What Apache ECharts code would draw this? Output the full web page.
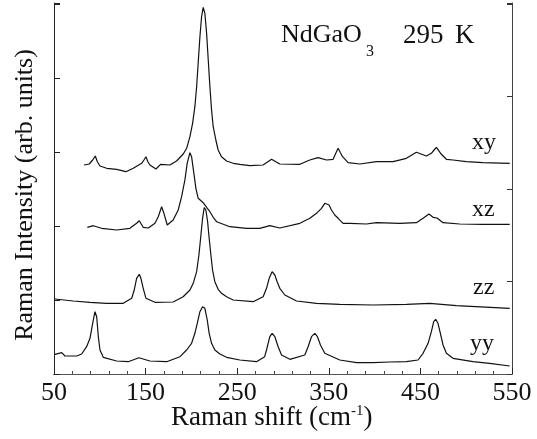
<!DOCTYPE html>
<html>
<head>
<meta charset="utf-8">
<script src="https://cdn.jsdelivr.net/npm/echarts@6/dist/echarts.min.js"></script>
<style>html,body{margin:0;padding:0;background:#fff}#c{width:537px;height:439px}</style>
</head>
<body>
<div id="c"></div>
<script>
// Raman shift (cm^-1) and intensity (arb. units, curves offset vertically)
var xyShift = [82.7, 88.5, 92.2, 95.1, 97.3, 100.2, 107.5, 118.4, 128.5, 136.5, 145.7, 148.2, 150.4, 152.5, 154.7, 161.3, 166.4, 176.5, 183.8, 191.1, 194.8, 198.4, 201.3, 203.8, 205.7, 207.4, 209.3, 211.1, 212.9, 214.7, 216.6, 218.4, 220.2, 222, 223.8, 226.7, 229.2, 232.9, 238.4, 245.6, 252.9, 263.8, 278.3, 287.5, 296.5, 318.4, 329.3, 338.3, 347.5, 354.7, 357.6, 360.2, 362.7, 365, 371.1, 383.8, 402, 420.2, 434.7, 445.6, 456.5, 462, 464.9, 467.5, 470, 472.9, 478.4, 485.6, 500.2, 518.3, 547.5];
var xyInt   = [209, 210, 214, 218, 212.3, 208, 205.7, 204.7, 202.3, 205.7, 210.7, 214, 217.3, 212.3, 209, 205, 209.7, 209, 213, 220, 225.7, 237.3, 250.7, 267.3, 287.3, 310.7, 337.3, 357.3, 366.7, 360.7, 340.7, 314, 287.3, 264, 247.3, 234, 224, 217.3, 213, 210.7, 209.7, 208.3, 209, 214.7, 210, 209.7, 214, 216.3, 214, 214.7, 220.7, 225.7, 221.3, 217.3, 211.3, 210, 212.3, 212.3, 215.7, 221.7, 218, 220.7, 224, 226.7, 223.3, 219.7, 214.7, 214, 212.3, 211.3, 210.7];

var xzShift = [86.4, 92.9, 102, 118.4, 132.9, 140.2, 143.1, 147.4, 153, 160.2, 163.8, 167.5, 170, 173.6, 180.1, 185.6, 189.3, 192.9, 195.4, 198.4, 200.2, 202.7, 204.9, 207.4, 212.9, 216.6, 220.2, 223.8, 227.5, 242, 260.2, 274.7, 285.6, 296.5, 318.4, 329.3, 336.6, 342, 345.6, 347.5, 350.3, 352.9, 356.5, 360.2, 365.6, 372.9, 391.1, 402, 427.4, 445.6, 452.9, 459.4, 463.8, 468.1, 474.7, 492.9, 518.3, 547.5];
var xzInt   = [146.7, 148.3, 145.7, 144, 145.7, 150.7, 153.3, 146.7, 146, 150.7, 157.3, 167.3, 160.7, 149, 154, 164, 177.3, 194, 210.7, 221.3, 217.3, 200.7, 185.7, 175.7, 171.3, 166.7, 162.3, 156.7, 152.3, 147.3, 145.7, 145.7, 148.3, 146, 150.7, 155.7, 160.7, 165.7, 170.7, 171.3, 169, 164, 159, 155.7, 150.7, 150.7, 150, 151.3, 150.7, 151.3, 155.7, 160, 156.7, 156, 151.3, 150, 149.7, 149.7];

var zzShift = [51, 71, 89.3, 107.5, 125.6, 134.8, 137.6, 140.2, 143.1, 144.9, 147.4, 150.4, 160.2, 180.1, 191, 198.4, 202, 205.7, 208.2, 210.4, 212.2, 214, 215.8, 217.7, 219.4, 221.3, 223.1, 225.6, 229.2, 232.9, 238.4, 245.6, 267.4, 278.3, 282, 284.9, 288.1, 291.1, 293.6, 296.5, 302, 314.8, 336.6, 362, 398.3, 434.8, 460.2, 489.3, 547.5];
var zzInt   = [75, 73, 71.7, 70.7, 70.7, 75.7, 84, 95.7, 99.7, 95.7, 85.7, 75.7, 71.7, 72, 77.3, 84, 90.7, 102.3, 119, 139, 155.7, 166.3, 164, 152.3, 135.7, 119, 104, 92.3, 84.7, 80.7, 77.3, 74, 72.3, 77.3, 85.7, 95.7, 102.3, 99, 92.3, 85.7, 79, 73, 70.7, 69.7, 69, 69.7, 70.7, 68.3, 65.7];

var yyShift = [51, 58.4, 62, 74.8, 80.2, 85.6, 89.3, 92.2, 94.7, 96.6, 98.4, 100.2, 103.8, 118.4, 131, 142.7, 154.7, 173, 187.5, 194.8, 200.2, 203.8, 206.4, 209.3, 212.2, 214.7, 217.3, 219.4, 222, 225.6, 231.1, 238.4, 252.9, 271, 280, 282, 285.6, 288.1, 291.1, 294.7, 298.4, 307.5, 323.8, 327.4, 331.1, 334.7, 337.6, 340.9, 345.6, 362, 380.2, 398.3, 416.5, 434.7, 447.4, 452.9, 458.4, 462, 464.5, 466.7, 469.2, 471.8, 474.7, 478.4, 485.6, 507.4, 525.6, 547.5];
var yyInt   = [19.7, 21.3, 18, 18, 20, 27.3, 35.7, 50.7, 62.3, 57.3, 37.3, 24, 16.7, 13, 12.3, 16.3, 13, 12.3, 17.3, 24, 30.7, 40.7, 50.7, 62.3, 67.3, 65.7, 54, 40.7, 30.7, 24, 20, 16.7, 14, 12.3, 17.3, 24, 37.3, 40.7, 37.3, 27.3, 19, 14.7, 19, 27.3, 37.3, 40.7, 37.3, 29, 20.7, 14, 11.3, 11.3, 12, 12.3, 14, 20.7, 30.7, 42.3, 52.3, 54.7, 50.7, 40.7, 29, 20.7, 15.7, 12.3, 10.7, 8];

var seriesNames = ['xy', 'xz', 'zz', 'yy'];
var xTickLabels = [50, 150, 250, 350, 450, 550];

var FONT = "'Liberation Serif', 'Times New Roman', serif";
function zip(a, b) { return a.map(function (v, i) { return [v, b[i]]; }); }
function line(name, xs, ys) {
  return { name: name, type: 'line', data: zip(xs, ys), showSymbol: false, symbol: 'none',
    lineStyle: { color: '#111', width: 1.2 }, animation: false, silent: true };
}

var chart = echarts.init(document.getElementById('c'), null, { renderer: 'canvas' });
chart.setOption({
  backgroundColor: '#fff',
  animation: false,
  grid: { left: 54, right: 25, top: 3, bottom: 65, containLabel: false, outerBoundsMode: 'none' },
  xAxis: [{
    type: 'value', min: xTickLabels[0], max: xTickLabels[xTickLabels.length - 1], interval: 100,
    position: 'bottom',
    axisLine: { show: true, lineStyle: { color: '#222', width: 1 } },
    axisTick: { show: true, inside: true, length: 6, lineStyle: { color: '#222' } },
    minorTick: { show: true, splitNumber: 5, length: 3, lineStyle: { color: '#444' } },
    axisLabel: { fontFamily: FONT, fontSize: 26, color: '#111', margin: 6 },
    splitLine: { show: false }
  }, {
    type: 'value', min: 50, max: 550, position: 'top',
    axisLine: { show: true, lineStyle: { color: '#555', width: 1 } },
    axisTick: { show: false }, axisLabel: { show: false }, splitLine: { show: false }
  }],
  yAxis: [{
    type: 'value', min: 0, max: 371, interval: 74, position: 'left',
    axisLine: { show: true, lineStyle: { color: '#222', width: 1 } },
    axisTick: { show: true, inside: true, length: 6, lineStyle: { color: '#222' } },
    axisLabel: { show: false }, splitLine: { show: false }
  }, {
    type: 'value', min: 0, max: 371, interval: 92.5, position: 'right',
    axisLine: { show: true, lineStyle: { color: '#444', width: 1 } },
    axisTick: { show: true, inside: true, length: 5, lineStyle: { color: '#333' } },
    axisLabel: { show: false }, splitLine: { show: false }
  }],
  series: [
    line(seriesNames[0], xyShift, xyInt),
    line(seriesNames[1], xzShift, xzInt),
    line(seriesNames[2], zzShift, zzInt),
    line(seriesNames[3], yyShift, yyInt)
  ],
  graphic: [
    { type: 'text', x: 25, y: 195, rotation: Math.PI / 2,
      style: { text: 'Raman Intensity (arb. units)', font: '26px ' + FONT, fill: '#111', align: 'center', verticalAlign: 'middle' } },
    { type: 'text', left: 171, top: 404,
      style: { text: 'Raman shift (cm{sup|-1})', font: '27px ' + FONT, fill: '#111',
        rich: { sup: { font: '15px ' + FONT, fill: '#111', verticalAlign: 'top', padding: [0, 0, 12, 0] } } } },
    { type: 'text', left: 281, top: 22, style: { text: 'NdGaO', font: '26px ' + FONT, fill: '#111' } },
    { type: 'text', left: 366, top: 44, style: { text: '3', font: '16px ' + FONT, fill: '#111' } },
    { type: 'text', left: 403, top: 22, style: { text: '295', font: '27px ' + FONT, fill: '#111' } },
    { type: 'text', left: 455, top: 22, style: { text: 'K', font: '27px ' + FONT, fill: '#111' } },
    { type: 'text', left: 472, top: 131, style: { text: seriesNames[0], font: '24px ' + FONT, fill: '#111' } },
    { type: 'text', left: 472, top: 198, style: { text: seriesNames[1], font: '24px ' + FONT, fill: '#111' } },
    { type: 'text', left: 473, top: 276, style: { text: seriesNames[2], font: '24px ' + FONT, fill: '#111' } },
    { type: 'text', left: 470, top: 332, style: { text: seriesNames[3], font: '24px ' + FONT, fill: '#111' } }
  ]
});
</script>
</body>
</html>
